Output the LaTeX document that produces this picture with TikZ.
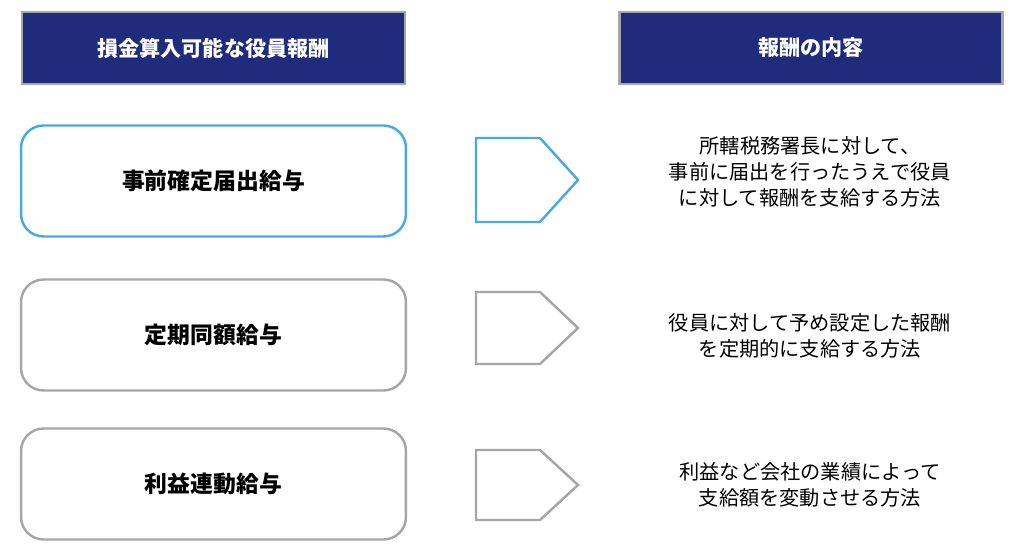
\documentclass[tikz,border=0pt]{standalone}
\usepackage{fontspec}
\setmainfont{Noto Sans CJK JP}
\usetikzlibrary{positioning}
\definecolor{navy}{HTML}{1F2B7B}
\definecolor{skyline}{HTML}{4BA9E1}
\definecolor{greyline}{HTML}{A6A6A6}
\tikzset{
  head/.style={draw=greyline,line width=1.2pt,fill=navy,text=white,minimum width=7.66cm,minimum height=1.44cm,font=\fontsize{12}{14}\selectfont\bfseries},
  item/.style={draw=greyline,line width=1.4pt,rounded corners=0.45cm,minimum width=7.7cm,minimum height=2.22cm,font=\fontsize{13}{15}\selectfont\bfseries},
  desc/.style={align=center,font=\fontsize{11.5}{15}\selectfont}
}
\begin{document}
\begin{tikzpicture}[x=0.02cm,y=-0.02cm]
\useasboundingbox (0,0) rectangle (1024,560);
\node[head] (h1) at (213.5,48) {損金算入可能な役員報酬};
\node[head] (h2) at (811,48) {報酬の内容};

\node[item,draw=skyline] (a) at (213.5,181) {事前確定届出給与};
\node[item] (b) at (213.5,335) {定期同額給与};
\node[item] (c) at (213.5,484) {利益連動給与};

% arrows
\draw[skyline,line width=1.4pt] (476,138) -- (540,138) -- (578,180) -- (540,222) -- (476,222) -- cycle;
\draw[greyline,line width=1.4pt] (476,292) -- (540,292) -- (578,328) -- (540,364) -- (476,364) -- cycle;
\draw[greyline,line width=1.4pt] (476,450) -- (540,450) -- (578,485) -- (540,520) -- (476,520) -- cycle;

\node[desc] (da) at (810,172) {所轄税務署長に対して、\\事前に届出を行ったうえで役員\\に対して報酬を支給する方法};
\node[desc] (db) at (810,336) {役員に対して予め設定した報酬\\を定期的に支給する方法};
\node[desc] (dc) at (810,485) {利益など会社の業績によって\\支給額を変動させる方法};
\end{tikzpicture}
\end{document}
